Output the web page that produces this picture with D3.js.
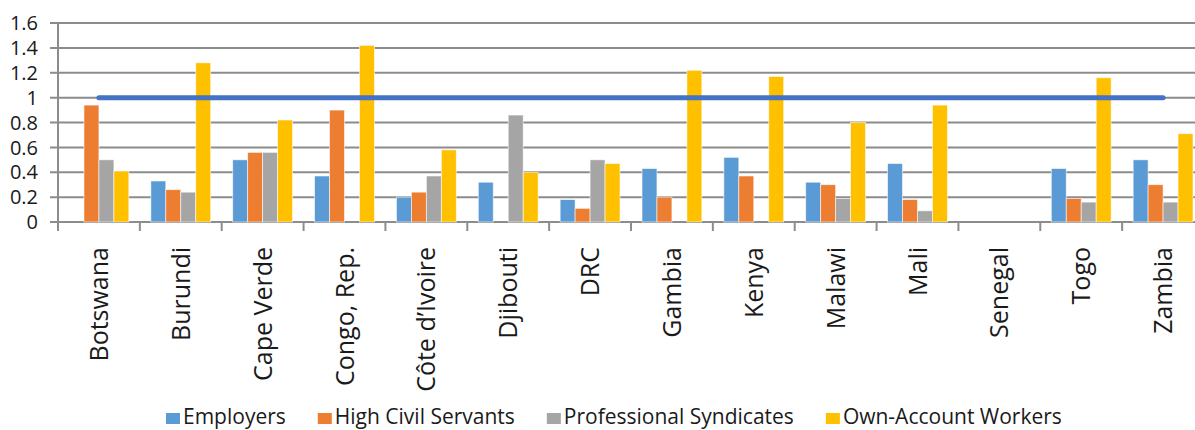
<!DOCTYPE html>
<html>
<head>
<meta charset="utf-8">
<script src="https://cdn.jsdelivr.net/npm/d3@7"></script>
<style>
  body { margin: 0; background: #fff; }
  text { font-family: "Open Sans", sans-serif; fill: #1a1a1a; }
</style>
</head>
<body>
<svg id="canvas" width="1195" height="430"></svg>
<script>
let countries = ['Botswana', 'Burundi', 'Cape Verde', 'Congo, Rep.', 'Côte d\u2019Ivoire', 'Djibouti', 'DRC',
  'Gambia', 'Kenya', 'Malawi', 'Mali', 'Senegal', 'Togo', 'Zambia']

let seriesNames = ['Employers', 'High Civil Servants', 'Professional Syndicates', 'Own-Account Workers']
let seriesColors = ['#5b9bd5', '#ed7d31', '#a5a5a5', '#ffc000']

let employers = [0, 0.33, 0.5, 0.37, 0.2, 0.32, 0.18, 0.43, 0.52, 0.32, 0.47, 0, 0.43, 0.5]
let highCivilServants = [0.94, 0.26, 0.56, 0.9, 0.24, 0, 0.11, 0.2, 0.37, 0.3, 0.18, 0, 0.19, 0.3]
let professionalSyndicates = [0.5, 0.24, 0.56, 0, 0.37, 0.86, 0.5, 0, 0, 0.19, 0.09, 0, 0.16, 0.16]
let ownAccountWorkers = [0.41, 1.28, 0.82, 1.42, 0.58, 0.4, 0.47, 1.22, 1.17, 0.8, 0.94, 0, 1.16, 0.71]

let referenceLine = [1, 1, 1, 1, 1, 1, 1, 1, 1, 1, 1, 1, 1, 1]

let yTicks = [0, 0.2, 0.4, 0.6, 0.8, 1, 1.2, 1.4, 1.6]

let allSeries = [employers, highCivilServants, professionalSyndicates, ownAccountWorkers]

let canvas = d3.select('#canvas')

let x0 = d3.scaleBand().domain(countries).range([58, 1204]).padding(0)
let x1 = d3.scaleBand().domain(d3.range(4)).range([11, x0.bandwidth() - 11]).padding(0)
let y = d3.scaleLinear().domain([0, 1.6]).range([222, 23])

// gridlines
canvas.append('g')
  .selectAll('line')
  .data(yTicks)
  .enter()
  .append('line')
  .attr('x1', 50)
  .attr('x2', 1195)
  .attr('y1', (d) => y(d))
  .attr('y2', (d) => y(d))
  .attr('stroke', '#8c8c8c')
  .attr('stroke-width', 2)

// y labels
canvas.append('g')
  .selectAll('text')
  .data(yTicks)
  .enter()
  .append('text')
  .attr('x', 38)
  .attr('y', (d) => y(d))
  .attr('dy', '0.36em')
  .attr('text-anchor', 'end')
  .style('font-size', '20px')
  .text((d) => d3.format('~g')(d))

// left axis line
canvas.append('line')
  .attr('x1', 58).attr('x2', 58)
  .attr('y1', y(1.6)).attr('y2', 231)
  .attr('stroke', '#8c8c8c')
  .attr('stroke-width', 2)

// x tick marks between categories
canvas.append('g')
  .selectAll('line')
  .data(countries)
  .enter()
  .append('line')
  .attr('x1', (d) => x0(d))
  .attr('x2', (d) => x0(d))
  .attr('y1', 222)
  .attr('y2', 231)
  .attr('stroke', '#8c8c8c')
  .attr('stroke-width', 2)

// bars, one group per series, zero values left out
allSeries.forEach((values, s) => {
  canvas.append('g')
    .attr('fill', seriesColors[s])
    .selectAll('rect')
    .data(values.map((v, i) => ({ v: v, c: countries[i] })).filter((d) => d.v > 0))
    .enter()
    .append('rect')
    .attr('x', (d) => x0(d.c) + x1(s))
    .attr('width', x1.bandwidth())
    .attr('y', (d) => y(d.v))
    .attr('height', (d) => y(0) - y(d.v))
    .attr('stroke', '#fff')
    .attr('stroke-opacity', 0.7)
    .attr('stroke-width', 0.8)
})

// reference line at 1
let line = d3.line()
  .x((d, i) => x0(countries[i]) + x0.bandwidth() / 2)
  .y((d) => y(d))

canvas.append('path')
  .datum(referenceLine)
  .attr('d', line)
  .attr('fill', 'none')
  .attr('stroke', '#4472c4')
  .attr('stroke-width', 5)
  .attr('stroke-linecap', 'round')

// category labels
canvas.append('g')
  .selectAll('text')
  .data(countries)
  .enter()
  .append('text')
  .attr('transform', (d) => 'translate(' + (x0(d) + x0.bandwidth() / 2) + ',247) rotate(-90)')
  .attr('dy', '0.36em')
  .attr('text-anchor', 'end')
  .style('font-size', '25px')
  .text((d) => d)

// legend
let legend = canvas.append('g')
let lx = 166
seriesNames.forEach((name, i) => {
  legend.append('rect')
    .attr('x', lx)
    .attr('y', 413)
    .attr('width', 14)
    .attr('height', 11)
    .attr('fill', seriesColors[i])
  let t = legend.append('text')
    .attr('x', lx + 17)
    .attr('y', 424)
    .style('font-size', '21px')
    .text(name)
  lx = lx + 17 + t.node().getComputedTextLength() + 32
})
</script>
</body>
</html>
